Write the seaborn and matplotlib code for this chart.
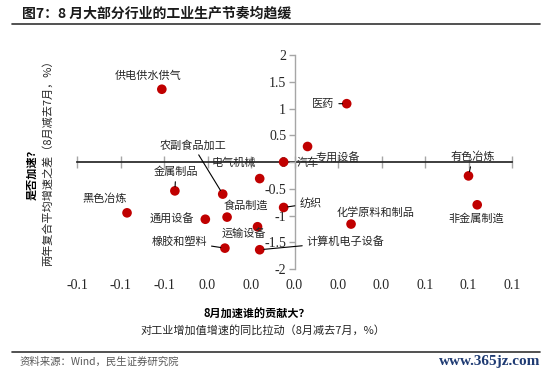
#!/usr/bin/env python3
"""
Scatter of industry contribution vs. growth acceleration (Aug vs Jul).
"""

import numpy as np
import pandas as pd
import matplotlib
matplotlib.use("Agg")
import matplotlib.pyplot as plt
import seaborn as sns

# Data
INDUSTRIES = ["供电供水供气", "医药", "汽车", "专用设备", "有色冶炼", "电气机械",
              "金属制品", "农副食品加工", "黑色冶炼", "通用设备", "食品制造",
              "运输设备", "橡胶和塑料", "计算机电子设备", "纺织", "化学原料和制品",
              "非金属制造"]
CONTRIB = [-0.061, 0.024, -0.005, 0.006, 0.080, -0.016,
           -0.055, -0.033, -0.077, -0.041, -0.031,
           -0.017, -0.032, -0.016, -0.005, 0.026,
           0.084]
ACCEL = [1.36, 1.09, 0.00, 0.29, -0.26, -0.31,
         -0.54, -0.60, -0.95, -1.07, -1.03,
         -1.21, -1.61, -1.64, -0.85, -1.16,
         -0.80]
X_TICKS = [-0.1, -0.08, -0.06, -0.04, -0.02, 0.0, 0.02, 0.04, 0.06, 0.08, 0.1]
Y_TICKS = [-2, -1.5, -1, -0.5, 0, 0.5, 1, 1.5, 2]

# label offsets in points (dx, dy) and whether a leader line is drawn
LABEL_POS = {
    "供电供水供气": (-10, 10, False),
    "医药": (-17, 0, True),
    "汽车": (17, -0.5, False),
    "专用设备": (21.5, -8, False),
    "有色冶炼": (3, 13.7, True),
    "电气机械": (-18.7, 11.5, False),
    "金属制品": (0.7, 13.7, True),
    "农副食品加工": (-21.6, 35.3, True),
    "黑色冶炼": (-16, 10, False),
    "通用设备": (-24, 0.7, False),
    "食品制造": (13.7, 8.6, False),
    "运输设备": (-10, -5, False),
    "橡胶和塑料": (-33, 5, True),
    "计算机电子设备": (62, 5.8, True),
    "纺织": (19.4, 2.9, True),
    "化学原料和制品": (17.3, 8, False),
    "非金属制造": (-0.7, -10, False),
}

sns.set_theme(style="white")
plt.rcParams["font.family"] = ["Noto Sans CJK SC", "DejaVu Sans"]
plt.rcParams["axes.unicode_minus"] = False

CJK = ["Noto Sans CJK SC", "DejaVu Sans"]
NUM = ["Liberation Serif", "DejaVu Serif"]
AXIS_GREY = "#A6A6A6"
TEXT = "#262626"


def fmt_x(v):
    s = f"{v:.1f}"
    return "0.0" if s == "-0.0" else s


def main():
    df = pd.DataFrame({"industry": INDUSTRIES, "x": CONTRIB, "y": ACCEL})

    fig = plt.figure(figsize=(5.5, 3.77), dpi=100)
    ax = fig.add_axes([77 / 550, 1 - 269 / 377, 435 / 550, 214 / 377])

    sns.scatterplot(data=df, x="x", y="y", color="#C00000", s=48,
                    edgecolor="none", zorder=5, ax=ax, legend=False)

    ax.set_xlim(-0.1, 0.1)
    ax.set_ylim(-2, 2)

    # y axis crosses at x = 0
    for side in ["top", "right", "bottom"]:
        ax.spines[side].set_visible(False)
    ax.spines["left"].set_position(("data", 0))
    ax.spines["left"].set_color(AXIS_GREY)
    ax.spines["left"].set_linewidth(1)
    ax.set_yticks(Y_TICKS)
    ax.set_yticklabels([f"{v:g}" for v in Y_TICKS], fontfamily=NUM,
                       fontsize=10, color=TEXT)
    ax.tick_params(axis="y", direction="out", length=4, width=1,
                   color=AXIS_GREY, pad=2, left=True)

    # x labels at the bottom, x axis line with ticks at y = 0
    ax.set_xticks(X_TICKS)
    ax.set_xticklabels([fmt_x(v) for v in X_TICKS], fontfamily=NUM,
                       fontsize=10, color=TEXT)
    ax.tick_params(axis="x", length=0, pad=7)
    sec = ax.secondary_xaxis(0.5)
    sec.set_xticks(X_TICKS)
    sec.set_xticklabels([])
    sec.spines["bottom"].set_color(AXIS_GREY)
    sec.spines["bottom"].set_linewidth(1)
    sec.tick_params(axis="x", direction="out", length=4, width=1,
                    color=AXIS_GREY, bottom=True)

    ax.set_xlabel("")
    ax.set_ylabel("")
    ax.grid(False)

    # point labels
    for name, x, y in zip(INDUSTRIES, CONTRIB, ACCEL):
        dx, dy, line = LABEL_POS[name]
        kw = {}
        if line:
            kw["arrowprops"] = dict(arrowstyle="-", color="black", lw=0.8,
                                    shrinkA=1, shrinkB=3)
        ax.annotate(name, xy=(x, y), xytext=(dx, dy), textcoords="offset points",
                    ha="center", va="center", fontsize=8, color=TEXT,
                    fontfamily=CJK, zorder=6, **kw)

    # axis titles
    fig.text(32 / 550, 1 - 172 / 377, "是否加速？", rotation=90, ha="center",
             va="center", fontsize=8, fontweight="bold", color="black",
             family=CJK)
    fig.text(48 / 550, 1 - 160 / 377, "两年复合平均增速之差（8月减去7月，%）",
             rotation=90, ha="center", va="center", fontsize=8, color=TEXT,
             family=CJK)
    fig.text(257 / 550, 1 - 314 / 377, "8月加速谁的贡献大？", ha="center",
             va="center", fontsize=8, fontweight="bold", color="black",
             family=CJK)
    fig.text(263 / 550, 1 - 330 / 377, "对工业增加值增速的同比拉动（8月减去7月，%）",
             ha="center", va="center", fontsize=8, color=TEXT, family=CJK)

    # title and footer
    fig.text(22 / 550, 1 - 14 / 377, "图7：8 月大部分行业的工业生产节奏均趋缓",
             ha="left", va="center", fontsize=10, fontweight="bold",
             color="#1a1a1a", family=CJK)
    fig.add_artist(plt.Line2D([12 / 550, 540 / 550], [1 - 24 / 377, 1 - 24 / 377],
                              color="#333333", lw=1.2))
    fig.add_artist(plt.Line2D([12 / 550, 540 / 550], [1 - 352 / 377, 1 - 352 / 377],
                              color="#333333", lw=1.2))
    fig.text(20 / 550, 1 - 362 / 377, "资料来源：Wind，民生证券研究院", ha="left",
             va="center", fontsize=7.5, color="#595959", family=CJK)
    fig.text(540 / 550, 1 - 362 / 377, "www.365jz.com", ha="right",
             va="center", fontsize=11, fontweight="bold", color="#1F3B73",
             family=NUM)

    fig.savefig("out.png", dpi=100)


if __name__ == "__main__":
    main()
